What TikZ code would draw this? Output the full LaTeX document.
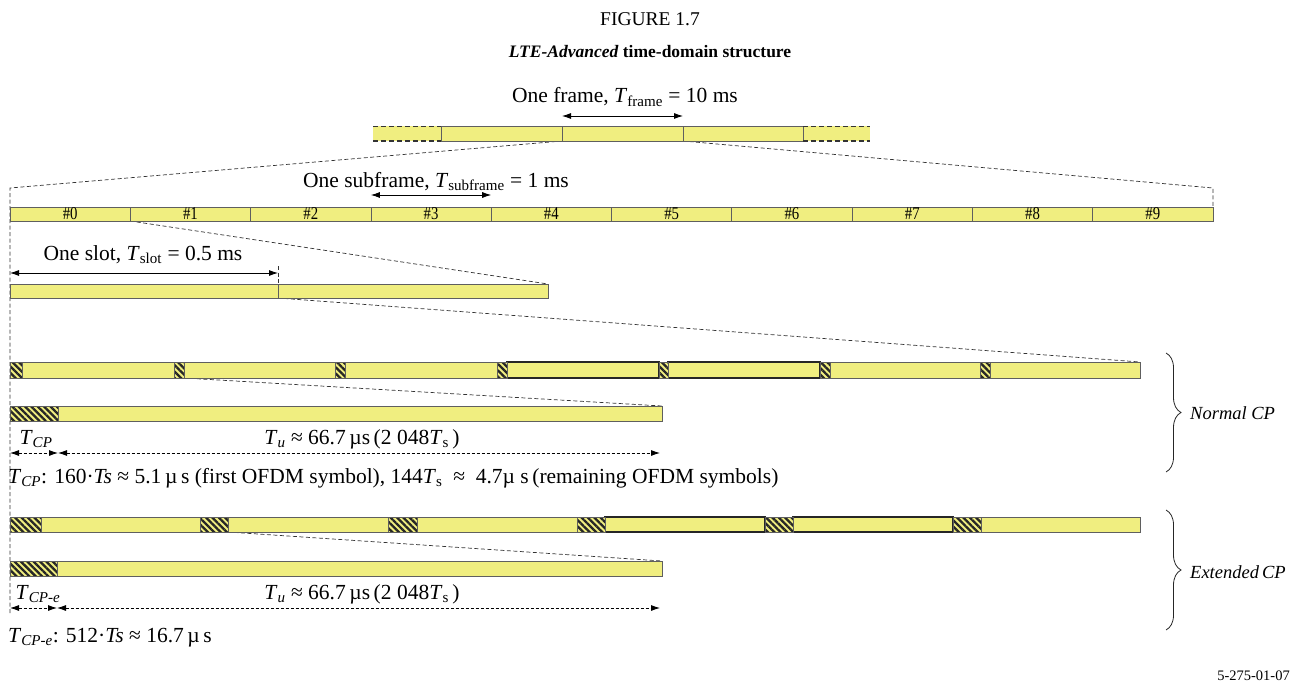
\documentclass[tikz,border=0pt]{standalone}
\usepackage{fontspec}
\usepackage{graphicx}
\setmainfont{Liberation Serif}
\usetikzlibrary{arrows.meta,patterns.meta,decorations.pathreplacing,backgrounds}
\definecolor{barfill}{RGB}{240,238,128}
\definecolor{barline}{RGB}{95,95,95}
\newcommand\Seg[7]{\node[#1,minimum width={(#4-#3)*1pt},minimum height={(#6-#5)*1pt}] (#2) at (#3,#5) {#7};}
\newcommand\sflab[1]{\scalebox{0.82}[1]{\fontsize{18}{18}\selectfont #1}}
\newcommand\Tsub[1]{\textit{T}\textsubscript{#1}}
\begin{document}
\begin{tikzpicture}[x=1pt,y=-1pt,
  seg/.style={draw=barline,fill=barfill,line width=0.7pt,inner sep=0pt,outer sep=0pt,anchor=north west},
  thickseg/.style={seg,draw=black!85,line width=1.6pt},
  cpseg/.style={seg,preaction={fill=barfill},pattern={Lines[angle=-45,distance=4.5pt,line width=2.3pt]},pattern color=black!85},
  extseg/.style={fill=barfill,inner sep=0pt,outer sep=0pt,anchor=north west},
  conn/.style={draw=black!80,line width=0.7pt,dash pattern=on 4pt off 2.5pt},
  framedash/.style={draw=black!80,line width=0.8pt,dash pattern=on 5pt off 3pt},
  dim/.style={line width=0.8pt,{Latex[length=9pt,width=6pt]}-{Latex[length=9pt,width=6pt]}},
  dimd/.style={dim,dash pattern=on 3pt off 2pt},
  lab/.style={inner sep=0pt,font=\fontsize{21.5}{24}\selectfont},
  bracelab/.style={inner sep=0pt,anchor=west,font=\fontsize{18.5}{20}\selectfont\itshape},
  bracedec/.style={draw=black!85,line width=0.8pt,decorate,decoration={brace,amplitude=15pt}},
]
\useasboundingbox (0,0) rectangle (1300,687);

% titles
\node[lab,anchor=base,font=\fontsize{19.5}{22}\selectfont] (fig) at (650,26) {FIGURE 1.7};
\node[lab,anchor=base,font=\fontsize{17.5}{20}\selectfont\bfseries] (title) at (650,58) {\textit{LTE-Advanced} time-domain structure};

% frame row
\Seg{extseg}{frL}{373}{441}{126}{141}{}
\Seg{extseg}{frR}{803}{870}{126}{141}{}
\Seg{seg}{fr1}{441}{562}{126}{141}{}
\Seg{seg}{fr2}{562}{683}{126}{141}{}
\Seg{seg}{fr3}{683}{803}{126}{141}{}
\draw[framedash] (frL.north west) -- (frL.north east);
\draw[framedash,line width=1.8pt] (frL.south west) -- (frL.south east);
\draw[framedash] (frR.north west) -- (frR.north east);
\draw[framedash,line width=1.8pt] (frR.south west) -- (frR.south east);
\node[lab,anchor=base] (frlab) at (625,103) {One frame, \Tsub{frame} = 10 ms};
\draw[dim] (fr2.north west |- 0,116) coordinate (fa1) -- (fr2.north east |- 0,116) coordinate (fa2);

% subframe row
\foreach \i in {0,...,9}{
  \pgfmathsetmacro\xa{10+120.3*\i}
  \pgfmathsetmacro\xb{10+120.3*(\i+1)}
  \Seg{seg}{sf\i}{\xa}{\xb}{207}{221}{\sflab{\#\i}}
}
\node[lab,anchor=base] (sflabel) at (436,187) {One subframe, \Tsub{subframe} = 1 ms};
\draw[dim] (sf3.north west |- 0,195) coordinate (sa1) -- (sf3.north east |- 0,195) coordinate (sa2);

% slot row
\Seg{seg}{sl1}{10}{278}{284}{298}{}
\Seg{seg}{sl2}{278}{548}{284}{298}{}
\node[lab,anchor=base] (sllabel) at (143,260) {One slot, \Tsub{slot} = 0.5 ms};
\coordinate (slA) at (10,273);
\coordinate (slB) at (278,273);
\draw[dim] (slA) -- (slB);

% normal CP row
\foreach \a/\b [count=\k] in {22/174,184/335,345/497,830/980,990/1140}{
  \Seg{seg}{nd\k}{\a}{\b}{362}{378}{}
}
\Seg{thickseg}{nd4x}{507}{659}{362}{378}{}
\Seg{thickseg}{nd5x}{668}{820}{362}{378}{}
\foreach \a/\b [count=\k] in {10/22,174/184,335/345,497/507,659/668,820/830,980/990}{
  \Seg{cpseg}{ncp\k}{\a}{\b}{362}{378}{}
}
\Seg{cpseg}{nxcp}{10}{58}{406}{421}{}
\Seg{seg}{nxu}{58}{662}{406}{421}{}
\node[lab,anchor=base] (ntcp) at (36,444) {\Tsub{\textit{CP}}};
\node[lab,anchor=base] (ntu) at (362,444) {\Tsub{\textit{u}} ≈ 66.7\,µs\,(2 048\Tsub{s}\,)};
\coordinate (na0) at (10,453);
\coordinate (na1) at (58,453);
\coordinate (na2) at (660,453);
\draw[dimd] (na0) -- (na1);
\draw[dimd] (na1) -- (na2);
\node[lab,anchor=base west] (ntxt) at (8,483) {\Tsub{\textit{CP}}: 160·\textit{Ts} ≈ 5.1\,µ\,s (first OFDM symbol), 144\Tsub{s} \ ≈ \ 4.7µ\ s\,(remaining OFDM symbols)};
\coordinate (nbt) at (1166,353);
\coordinate (nbb) at (1166,472);
\draw[bracedec] (nbt) -- (nbb);
\node[bracelab] (nbl) at (1190,413) {Normal CP};

% extended CP row
\foreach \a/\b [count=\k] in {41/200,228/388,417/577,981/1140}{
  \Seg{seg}{ed\k}{\a}{\b}{517}{532}{}
}
\Seg{thickseg}{ed4x}{605}{765}{517}{532}{}
\Seg{thickseg}{ed5x}{793}{953}{517}{532}{}
\foreach \a/\b [count=\k] in {10/41,200/228,388/417,577/605,765/793,953/981}{
  \Seg{cpseg}{ecp\k}{\a}{\b}{517}{532}{}
}
\Seg{cpseg}{excp}{10}{57}{561}{576}{}
\Seg{seg}{exu}{57}{662}{561}{576}{}
\node[lab,anchor=base] (etcp) at (38,599) {\Tsub{\textit{CP-e}}};
\node[lab,anchor=base] (etu) at (362,599) {\Tsub{\textit{u}} ≈ 66.7\,µs\,(2 048\Tsub{s}\,)};
\coordinate (ea0) at (10,608);
\coordinate (ea1) at (57,608);
\coordinate (ea2) at (660,608);
\draw[dimd] (ea0) -- (ea1);
\draw[dimd] (ea1) -- (ea2);
\node[lab,anchor=base west] (etxt) at (8,642) {\Tsub{\textit{CP-e}}: 512·\textit{Ts} ≈ 16.7\,µ\,s};
\coordinate (ebt) at (1166,510);
\coordinate (ebb) at (1166,630);
\draw[bracedec] (ebt) -- (ebb);
\node[bracelab] (ebl) at (1190,572) {Extended\,CP};

\node[inner sep=0pt,anchor=base east,font=\fontsize{14.5}{16}\selectfont] (figid) at (1290,680) {5-275-01-07};

% dashed zoom connectors
\begin{scope}[on background layer]
  \coordinate (cL) at (10,188);
  \coordinate (cR) at (1213,188);
  \coordinate (vEnd) at (10,615);
  \coordinate (slTick) at (278,266);
  \draw[conn] (fr2.south west) -- (cL) -- (vEnd);
  \draw[conn] (fr2.south east) -- (cR) -- (sf9.north east);
  \draw[conn] (sf1.south west) -- (sl2.north east);
  \draw[conn] (slTick) -- (sl1.north east);
  \draw[conn] (sl1.south east) -- (nd5.north east);
  \draw[conn] (ncp2.south east) -- (nxu.north east);
  \draw[conn] (ecp2.south east) -- (exu.north east);
\end{scope}
\end{tikzpicture}
\end{document}
